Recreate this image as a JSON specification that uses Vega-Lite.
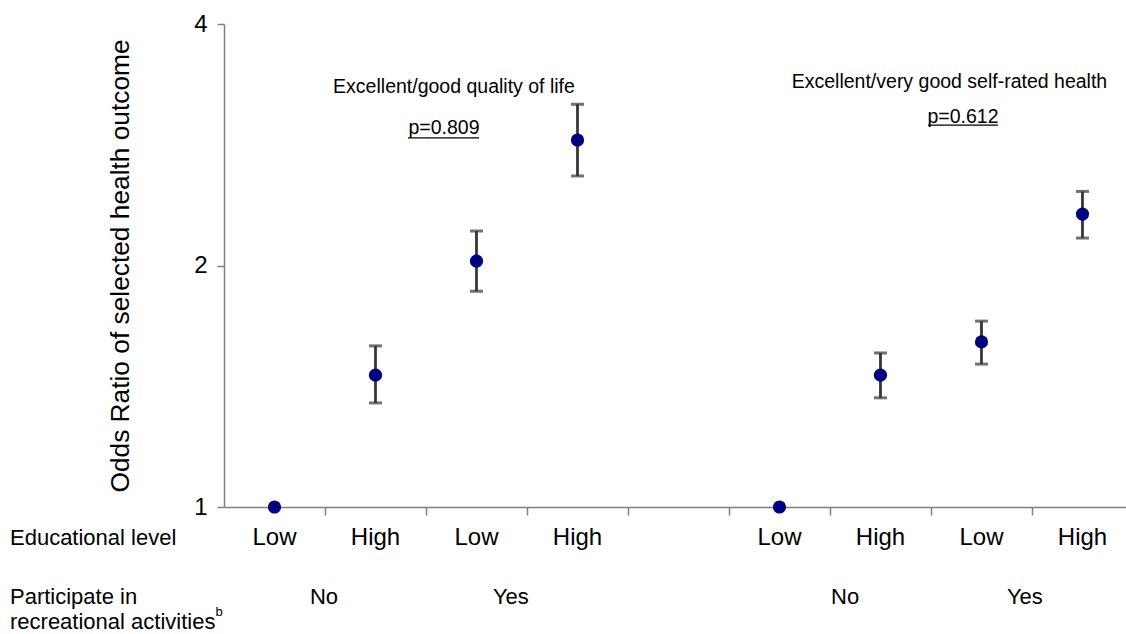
{
  "$schema": "https://vega.github.io/schema/vega-lite/v6.json",
  "width": 902,
  "height": 483,
  "autosize": {"type": "none"},
  "padding": {"left": 224, "top": 24, "right": 0, "bottom": 127},
  "background": "white",
  "config": {"view": {"stroke": null}, "font": "Liberation Sans", "axis": {"grid": false}},
  "datasets": {
    "points": [
      {"slot": 1, "edu": "Low", "part": "No", "outcome": "Excellent/good quality of life", "or": 1, "lo": null, "hi": null},
      {"slot": 2, "edu": "High", "part": "No", "outcome": "Excellent/good quality of life", "or": 1.46, "lo": 1.348, "hi": 1.588},
      {"slot": 3, "edu": "Low", "part": "Yes", "outcome": "Excellent/good quality of life", "or": 2.025, "lo": 1.858, "hi": 2.208},
      {"slot": 4, "edu": "High", "part": "Yes", "outcome": "Excellent/good quality of life", "or": 2.867, "lo": 2.586, "hi": 3.177},
      {"slot": 6, "edu": "Low", "part": "No", "outcome": "Excellent/very good self-rated health", "or": 1, "lo": null, "hi": null},
      {"slot": 7, "edu": "High", "part": "No", "outcome": "Excellent/very good self-rated health", "or": 1.46, "lo": 1.368, "hi": 1.556},
      {"slot": 8, "edu": "Low", "part": "Yes", "outcome": "Excellent/very good self-rated health", "or": 1.606, "lo": 1.507, "hi": 1.705},
      {"slot": 9, "edu": "High", "part": "Yes", "outcome": "Excellent/very good self-rated health", "or": 2.318, "lo": 2.164, "hi": 2.474}
    ],
    "rowTitles": [
      {"label": "Educational level", "x": -1.619, "y": 0.915},
      {"label": "Participate in", "x": -1.619, "y": 0.772},
      {"label": "recreational activities", "x": -1.619, "y": 0.719}
    ],
    "groups": [
      {"label": "No", "x": 1.49, "y": 0.772},
      {"label": "Yes", "x": 3.34, "y": 0.772},
      {"label": "No", "x": 6.65, "y": 0.772},
      {"label": "Yes", "x": 8.43, "y": 0.772}
    ],
    "sup": [
      {"label": "b", "x": 0.415, "y": 0.739}
    ],
    "notes": [
      {"label": "Excellent/good quality of life", "x": 2.777, "y": 3.339},
      {"label": "p=0.809", "x": 2.678, "y": 2.968},
      {"label": "Excellent/very good self-rated health", "x": 7.683, "y": 3.387},
      {"label": "p=0.612", "x": 7.817, "y": 3.063}
    ],
    "underlines": [
      {"x": 2.322, "x2": 3.025, "y": 2.884},
      {"x": 7.47, "x2": 8.163, "y": 2.993}
    ]
  },
  "layer": [
    {
      "data": {"name": "points"},
      "transform": [{"filter": "datum.lo != null"}],
      "mark": {
        "type": "errorbar",
        "ticks": {"size": 13, "thickness": 3, "color": "#363636"},
        "rule": {"strokeWidth": 2.8, "color": "#363636"}
      },
      "encoding": {
        "x": {
          "field": "slot", "type": "quantitative",
          "scale": {"domain": [0.5, 9.431], "nice": false, "zero": false},
          "axis": {
            "values": [1.5, 2.5, 3.5, 4.5, 5.5, 6.5, 7.5, 8.5],
            "labels": false, "title": null, "tickSize": 8,
            "tickColor": "#808080", "domainColor": "#808080", "domainWidth": 1.5, "tickWidth": 1.5
          }
        },
        "y": {
          "field": "lo", "type": "quantitative",
          "scale": {"type": "log", "domain": [1, 4], "nice": false},
          "axis": {
            "values": [1, 2, 4], "format": "d", "labelFontSize": 24, "labelColor": "black",
            "tickSize": 7, "labelPadding": 10, "tickColor": "#808080", "domainColor": "#808080",
            "domainWidth": 1.5, "tickWidth": 1.5,
            "title": "Odds Ratio of selected health outcome", "titleFontSize": 26.3,
            "titleFontWeight": "normal", "titleColor": "black", "titlePadding": 59
          }
        },
        "y2": {"field": "hi"}
      }
    },
    {
      "data": {"name": "points"},
      "mark": {"type": "circle", "size": 175, "color": "#000080", "opacity": 1},
      "encoding": {
        "x": {"field": "slot", "type": "quantitative"},
        "y": {"field": "or", "type": "quantitative"}
      }
    },
    {
      "data": {"name": "points"},
      "mark": {"type": "text", "fontSize": 24, "align": "center", "baseline": "middle", "color": "black"},
      "encoding": {
        "x": {"field": "slot", "type": "quantitative"},
        "y": {"datum": 0.915},
        "text": {"field": "edu"}
      }
    },
    {
      "data": {"name": "rowTitles"},
      "mark": {"type": "text", "fontSize": 22, "align": "left", "baseline": "middle", "color": "black"},
      "encoding": {
        "x": {"field": "x", "type": "quantitative"},
        "y": {"field": "y", "type": "quantitative"},
        "text": {"field": "label"}
      }
    },
    {
      "data": {"name": "groups"},
      "mark": {"type": "text", "fontSize": 22, "align": "center", "baseline": "middle", "color": "black"},
      "encoding": {
        "x": {"field": "x", "type": "quantitative"},
        "y": {"field": "y", "type": "quantitative"},
        "text": {"field": "label"}
      }
    },
    {
      "data": {"name": "sup"},
      "mark": {"type": "text", "fontSize": 13, "align": "left", "baseline": "middle", "color": "black"},
      "encoding": {
        "x": {"field": "x", "type": "quantitative"},
        "y": {"field": "y", "type": "quantitative"},
        "text": {"field": "label"}
      }
    },
    {
      "data": {"name": "notes"},
      "mark": {"type": "text", "fontSize": 19.5, "align": "center", "baseline": "middle", "color": "black"},
      "encoding": {
        "x": {"field": "x", "type": "quantitative"},
        "y": {"field": "y", "type": "quantitative"},
        "text": {"field": "label"}
      }
    },
    {
      "data": {"name": "underlines"},
      "mark": {"type": "rule", "color": "black", "strokeWidth": 1.2},
      "encoding": {
        "x": {"field": "x", "type": "quantitative"},
        "x2": {"field": "x2"},
        "y": {"field": "y", "type": "quantitative"}
      }
    }
  ]
}
